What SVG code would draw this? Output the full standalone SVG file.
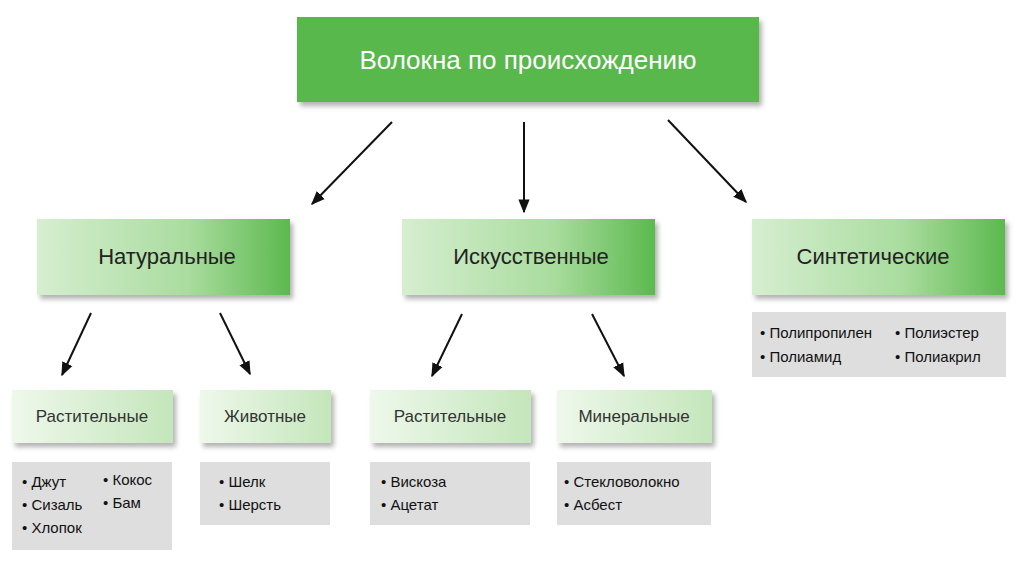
<svg xmlns="http://www.w3.org/2000/svg" width="1024" height="564" viewBox="0 0 1024 564">
<defs>
<linearGradient id="g2" x1="0" x2="1" y1="0" y2="0"><stop offset="0" stop-color="#d6eed0"/><stop offset="0.6" stop-color="#a9dc9e"/><stop offset="1" stop-color="#5cb94e"/></linearGradient>
<linearGradient id="g3" x1="0" x2="1" y1="0" y2="0"><stop offset="0" stop-color="#eef8eb"/><stop offset="1" stop-color="#c4e6bb"/></linearGradient>
<filter id="sh" x="-10%" y="-10%" width="130%" height="140%"><feDropShadow dx="3" dy="4" stdDeviation="2.5" flood-color="#000" flood-opacity="0.3"/></filter>
<marker id="ah" viewBox="0 0 10 10" refX="9" refY="5" markerWidth="7" markerHeight="7" orient="auto"><path d="M0,1 L10,5 L0,9 Z" fill="#111"/></marker>
<style>
text{font-family:"Liberation Sans",Arial,sans-serif;fill:#222}
.t1{font-size:26px;fill:#fff}
.t2{font-size:22px}
.t3{font-size:17px;fill:#333}
.li{font-size:15px;fill:#111}
.grey{fill:#dedede}
line{stroke:#111;stroke-width:2;marker-end:url(#ah)}
</style>
</defs>
<rect width="1024" height="564" fill="#fff"/>
<g id="root"><rect x="297" y="17" width="462" height="85" fill="#58b84c" filter="url(#sh)"/><text class="t1" x="528" y="69" text-anchor="middle">Волокна по происхождению</text></g>
<g id="nat"><rect x="37" y="219" width="253" height="76" fill="url(#g2)" filter="url(#sh)"/><text class="t2" x="167" y="264" text-anchor="middle">Натуральные</text></g>
<g id="isk"><rect x="402" y="219" width="253" height="76" fill="url(#g2)" filter="url(#sh)"/><text class="t2" x="531" y="264" text-anchor="middle">Искусственные</text></g>
<g id="sin"><rect x="752" y="219" width="253" height="76" fill="url(#g2)" filter="url(#sh)"/><text class="t2" x="873" y="264" text-anchor="middle">Синтетические</text></g>
<g id="rast1"><rect x="12" y="390" width="161" height="53" fill="url(#g3)" filter="url(#sh)"/><text class="t3" x="92" y="422" text-anchor="middle">Растительные</text></g>
<g id="zhiv"><rect x="200" y="390" width="131" height="53" fill="url(#g3)" filter="url(#sh)"/><text class="t3" x="265" y="422" text-anchor="middle">Животные</text></g>
<g id="rast2"><rect x="370" y="390" width="161" height="53" fill="url(#g3)" filter="url(#sh)"/><text class="t3" x="450" y="422" text-anchor="middle">Растительные</text></g>
<g id="min"><rect x="557" y="390" width="155" height="53" fill="url(#g3)" filter="url(#sh)"/><text class="t3" x="634" y="422" text-anchor="middle">Минеральные</text></g>
<g id="l1"><rect class="grey" x="12" y="462" width="160" height="88"/><text class="li" x="22" y="487">• Джут</text><text class="li" x="103" y="485">• Кокос</text><text class="li" x="22" y="510">• Сизаль</text><text class="li" x="103" y="508">• Бам</text><text class="li" x="22" y="533">• Хлопок</text></g>
<g id="l2"><rect class="grey" x="200" y="462" width="130" height="63"/><text class="li" x="219" y="487">• Шелк</text><text class="li" x="219" y="510">• Шерсть</text></g>
<g id="l3"><rect class="grey" x="370" y="462" width="160" height="63"/><text class="li" x="381" y="487">• Вискоза</text><text class="li" x="381" y="510">• Ацетат</text></g>
<g id="l4"><rect class="grey" x="557" y="462" width="154" height="63"/><text class="li" x="564" y="487">• Стекловолокно</text><text class="li" x="564" y="510">• Асбест</text></g>
<g id="l5"><rect class="grey" x="752" y="312" width="254" height="65"/><text class="li" x="760" y="338">• Полипропилен</text><text class="li" x="895" y="338">• Полиэстер</text><text class="li" x="760" y="362">• Полиамид</text><text class="li" x="895" y="362">• Полиакрил</text></g>
<g id="connectors">
<line x1="392" y1="122" x2="312" y2="204"/>
<line x1="524" y1="122" x2="524" y2="212"/>
<line x1="668" y1="120" x2="746" y2="202"/>
<line x1="91" y1="313" x2="62" y2="375"/>
<line x1="220" y1="313" x2="250" y2="374"/>
<line x1="462" y1="314" x2="432" y2="376"/>
<line x1="592" y1="314" x2="624" y2="376"/>
</g>
</svg>
